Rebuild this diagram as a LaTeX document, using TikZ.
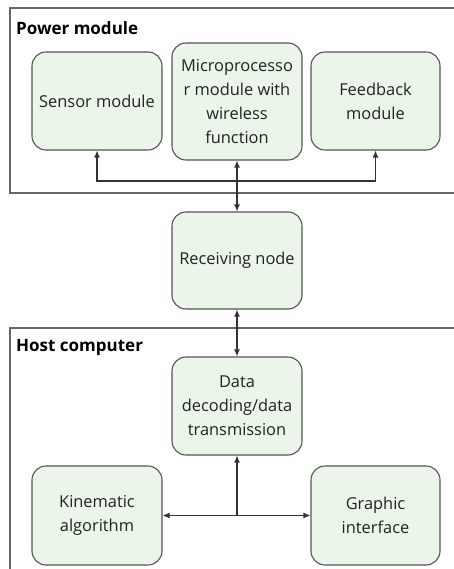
\documentclass[tikz,border=0pt]{standalone}
\usepackage{fontspec}
\setmainfont{Open Sans}
\usetikzlibrary{arrows.meta}
\definecolor{boxfill}{HTML}{EBF5EA}
\definecolor{boxline}{HTML}{555555}
\definecolor{frameline}{HTML}{666666}
\definecolor{txt}{HTML}{222222}
\begin{document}
\begin{tikzpicture}[x=1pt,y=-1pt,
  blk/.style={draw=boxline,fill=boxfill,line width=1.1pt,rounded corners=14pt,
    minimum width=130pt,inner sep=2pt,align=center,text=txt,
    font=\fontsize{16.4}{24}\selectfont},
  frame/.style={draw=frameline,line width=1.3pt},
  ttl/.style={anchor=west,font=\fontsize{17}{18}\selectfont\bfseries,text=black,inner sep=0pt},
  conn/.style={draw=black!80,line width=1.1pt,-{Latex[length=7pt,width=6pt]}},
  bconn/.style={draw=black!80,line width=1.1pt,{Latex[length=7pt,width=6pt]}-{Latex[length=7pt,width=6pt]}}]
\clip (0,0) rectangle (454,569);
\fill[white] (0,0) rectangle (454,569);
% frames
\draw[frame] (10,8) rectangle (480,193);
\draw[frame] (10,328) rectangle (480,600);
\node[ttl] (pm) at (16,28) {Power module};
\node[ttl] (hc) at (16,347) {Host computer};
% power module blocks
\node[blk,minimum height=98pt] (sensor) at (97,101) {Sensor module};
\node[blk,minimum height=117pt] (micro) at (237,101.5) {Microprocesso\\r module with\\wireless\\function};
\node[blk,minimum height=98pt,minimum width=129pt] (feed) at (375.5,101) {Feedback\\module};
\node[blk,minimum height=97pt] (recv) at (237,260.5) {Receiving node};
\node[blk,minimum height=98pt] (data) at (237,406) {Data\\decoding/data\\transmission};
\node[blk,minimum height=99pt] (kin) at (97,515.5) {Kinematic\\algorithm};
\node[blk,minimum height=99pt,minimum width=129pt] (graph) at (375.5,515.5) {Graphic\\interface};
% connectors
\coordinate (j1) at (237,181);
\coordinate (j2) at (237,515);
\draw[bconn] (recv.north) -- (micro.south);
\draw[conn] (j1) -| (sensor.south);
\draw[conn] (j1) -| (feed.south);
\draw[bconn] (recv.south) -- (data.north);
\draw[conn] (j2) -- (data.south);
\draw[bconn] (kin.east) -- (graph.west);
\end{tikzpicture}
\end{document}
